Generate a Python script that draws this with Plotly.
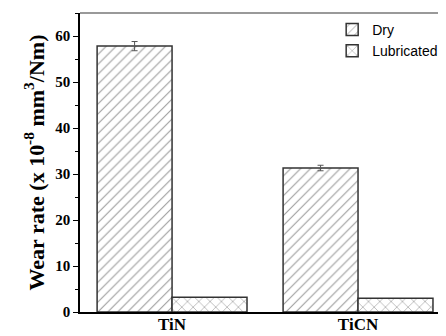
import plotly.graph_objects as go

categories = ["TiN", "TiCN"]
dry = [57.8, 31.3]
dry_err = [1.0, 0.6]
lubricated = [3.2, 3.0]
y_ticks = [0, 10, 20, 30, 40, 50, 60]

fig = go.Figure()
fig.add_trace(go.Bar(
    name="Dry", x=categories, y=dry,
    error_y=dict(type="data", array=dry_err, color="#555", thickness=1, width=3),
    marker=dict(color="white", line=dict(color="#333", width=1.5),
                pattern=dict(shape="/", fgcolor="#333", bgcolor="white", size=7, solidity=0.15)),
))
fig.add_trace(go.Bar(
    name="Lubricated", x=categories, y=lubricated,
    marker=dict(color="white", line=dict(color="#333", width=1.5),
                pattern=dict(shape="x", fgcolor="#333", bgcolor="white", size=8, solidity=0.15)),
))

fig.update_layout(
    width=446, height=336,
    margin=dict(l=72, r=8, t=5, b=32),
    paper_bgcolor="white", plot_bgcolor="white",
    barmode="group", bargap=0.194, bargroupgap=0,
    showlegend=True,
    legend=dict(x=0.689, y=0.997, xanchor="left", yanchor="top",
                font=dict(family="Liberation Sans", size=14, color="black"),
                bgcolor="rgba(0,0,0,0)", tracegroupgap=0, itemwidth=30),
    font=dict(family="Liberation Serif", color="black"),
)
fig.update_xaxes(
    range=[-0.495, 1.473], showline=True, linecolor="black", linewidth=1.5,
    ticks="", ticklen=0, ticklabelstandoff=-4,
    tickvals=categories, ticktext=["<b>%s</b>" % c for c in categories],
    tickfont=dict(family="Liberation Serif", size=17, color="black"),
    showgrid=False, zeroline=False,
)
fig.update_yaxes(
    range=[0, 65], tickvals=y_ticks, ticktext=["<b>%d</b>" % v for v in y_ticks],
    showline=True, linecolor="black", linewidth=1.5,
    ticks="outside", ticklen=5, tickwidth=1.2, tickcolor="black",
    minor=dict(dtick=5, ticks="outside", ticklen=3, tickcolor="black"),
    tickfont=dict(family="Liberation Serif", size=15, color="black"),
    showgrid=False, zeroline=False,
    title=dict(text="<b>Wear rate (x 10<sup>-8</sup> mm<sup>3</sup>/Nm)</b>",
               font=dict(family="Liberation Serif", size=22, color="black"),
               standoff=5),
)
fig.add_shape(type="line", xref="paper", yref="paper", x0=0, x1=1, y0=1, y1=1,
              line=dict(color="#777", width=1.5))

fig.write_html("out.html")
